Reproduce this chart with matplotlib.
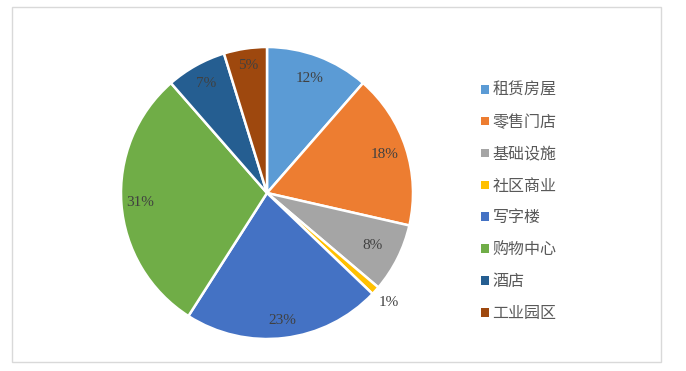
import numpy as np
import matplotlib
matplotlib.use("Agg")
import matplotlib.pyplot as plt
from matplotlib.patches import Rectangle

plt.rcParams['font.family'] = ['Noto Sans CJK SC', 'DejaVu Sans']

# 数据
categories = ['租赁房屋', '零售门店', '基础设施', '社区商业', '写字楼', '购物中心', '酒店', '工业园区']
values = [12, 18, 8, 1, 23, 31, 7, 5]
colors = ['#5B9BD5', '#ED7D31', '#A5A5A5', '#FFC000', '#4472C4', '#70AD47', '#255E91', '#9E480E']
label_dist = [0.84, 0.85, 0.81, 1.12, 0.88, 0.87, 0.86, 0.88]

W, H = 686, 371
fig = plt.figure(figsize=(W / 100, H / 100), dpi=100)

# 外框
fig.patches.append(Rectangle((12 / W, 1 - 362 / H), (661 - 12) / W, (362 - 7) / H,
                             transform=fig.transFigure, fill=False,
                             edgecolor='#D9D9D9', linewidth=1))

cx, cy, r = 267, 193, 146
ax = fig.add_axes([(cx - r) / W, (H - cy - r) / H, 2 * r / W, 2 * r / H])

wedges, _ = ax.pie(values, colors=colors, startangle=90, counterclock=False,
                   wedgeprops=dict(edgecolor='white', linewidth=1.8))
ax.set_xlim(-1, 1)
ax.set_ylim(-1, 1)
ax.set_aspect('equal')

for w, v, d in zip(wedges, values, label_dist):
    ang = np.deg2rad((w.theta1 + w.theta2) / 2)
    ax.text(d * np.cos(ang), d * np.sin(ang), f'{v}%', ha='center', va='center',
            fontsize=11, color='#404040', family='Liberation Serif')

leg = fig.legend(wedges, categories, loc='center left',
                 bbox_to_anchor=(467 / W, 1 - 202 / H),
                 frameon=False, fontsize=11.5, labelcolor='#595959',
                 handlelength=0.45, handleheight=0.45, handletextpad=0.25,
                 labelspacing=0.93)
for h in leg.legend_handles:
    h.set_edgecolor('none')

fig.savefig('out.png', dpi=100)
